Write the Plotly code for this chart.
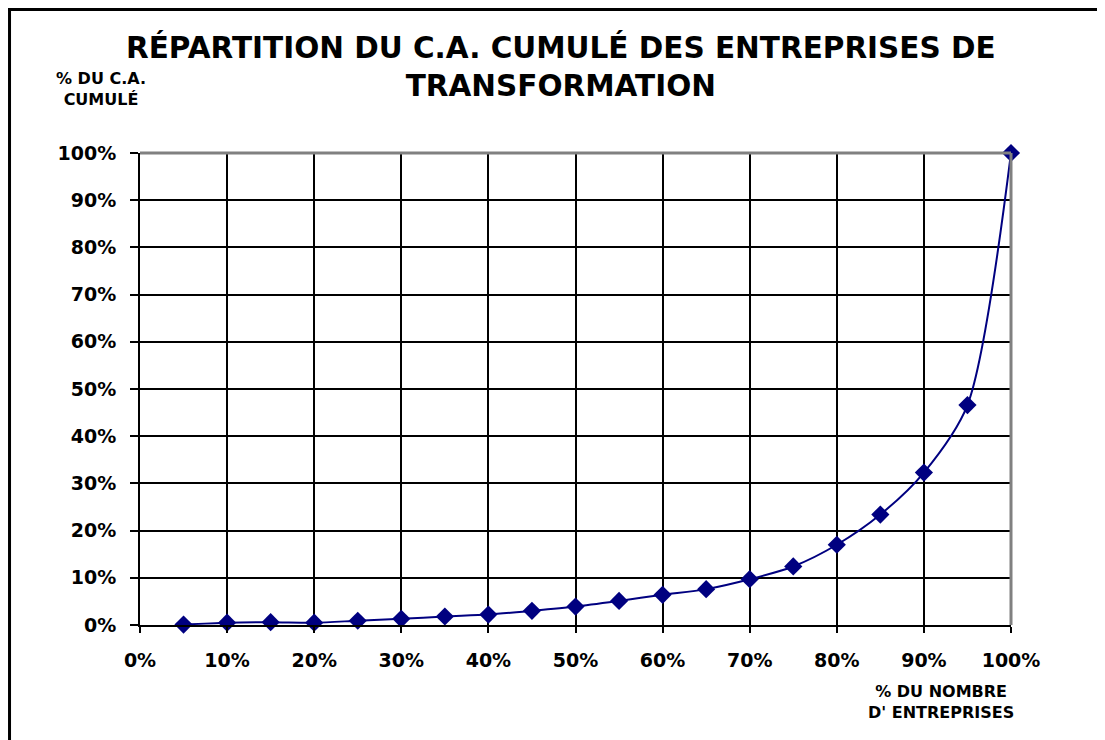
import plotly.graph_objects as go

# % du nombre d'entreprises (x) et % du C.A. cumulé (y)
share_firms = [5, 10, 15, 20, 25, 30, 35, 40, 45, 50, 55, 60, 65, 70, 75, 80, 85, 90, 95, 100]
share_turnover = [0.1, 0.5, 0.6, 0.5, 0.9, 1.3, 1.8, 2.2, 3.0, 3.9, 5.1, 6.4,
                  7.6, 9.7, 12.4, 17.0, 23.4, 32.3, 46.6, 100]

tick_vals = list(range(0, 101, 10))
tick_text = [f"{v}%" for v in tick_vals]

FONT = "DejaVu Sans, Liberation Sans, Arial, sans-serif"
NAVY = "#000080"

fig = go.Figure()

fig.add_trace(go.Scatter(
    x=share_firms,
    y=share_turnover,
    mode="lines+markers",
    line=dict(color=NAVY, width=2, shape="spline", smoothing=0.8),
    marker=dict(symbol="diamond", size=14, color=NAVY),
    showlegend=False,
    cliponaxis=False,
))

axis_common = dict(
    tickvals=tick_vals,
    ticktext=tick_text,
    showgrid=True,
    gridcolor="black",
    gridwidth=2,
    zeroline=False,
    showline=True,
    linecolor="black",
    linewidth=2,
    ticks="outside",
    tickcolor="black",
    tickwidth=2,
    automargin=False,
    tickfont=dict(family=FONT, size=19, color="black", weight="bold"),
)

fig.update_xaxes(range=[0, 100], ticklen=6, ticklabelstandoff=11, **axis_common)
fig.update_yaxes(range=[0, 100], ticklen=8, ticklabelstandoff=10, **axis_common)

# plot frame (grey top/right edges)
fig.add_shape(type="line", xref="paper", yref="paper", x0=0, x1=1, y0=1, y1=1,
              line=dict(color="#808080", width=3))
fig.add_shape(type="line", xref="paper", yref="paper", x0=1, x1=1, y0=0, y1=1,
              line=dict(color="#808080", width=3))
# outer chart border (cut by the image edges)
fig.add_shape(type="rect", xref="paper", yref="paper",
              x0=-0.1498, x1=1.12, y0=-0.26, y1=1.304,
              line=dict(color="black", width=3), layer="above")

fig.add_annotation(
    text="RÉPARTITION DU C.A. CUMULÉ DES ENTREPRISES DE<br>TRANSFORMATION",
    xref="paper", yref="paper", x=0.4834, y=1.183,
    xanchor="center", yanchor="middle", showarrow=False,
    font=dict(family=FONT, size=29.5, color="black", weight="bold"),
)
fig.add_annotation(
    text="% DU C.A.<br>CUMULÉ", xref="paper", yref="paper",
    x=-0.0448, y=1.1356, xanchor="center", yanchor="middle", showarrow=False,
    font=dict(family=FONT, size=16, color="black", weight="bold"),
)
fig.add_annotation(
    text="% DU NOMBRE<br>D' ENTREPRISES", xref="paper", yref="paper",
    x=0.9197, y=-0.163, xanchor="center", yanchor="middle", showarrow=False,
    font=dict(family=FONT, size=16, color="black", weight="bold"),
)

# the page body adds an 8px offset, margins are set so the plot lands at 140..1011 / 153..625
fig.update_layout(
    width=1097,
    height=732,
    margin=dict(l=132, r=94, t=145, b=115),
    paper_bgcolor="white",
    plot_bgcolor="white",
)

fig.write_html("out.html")
